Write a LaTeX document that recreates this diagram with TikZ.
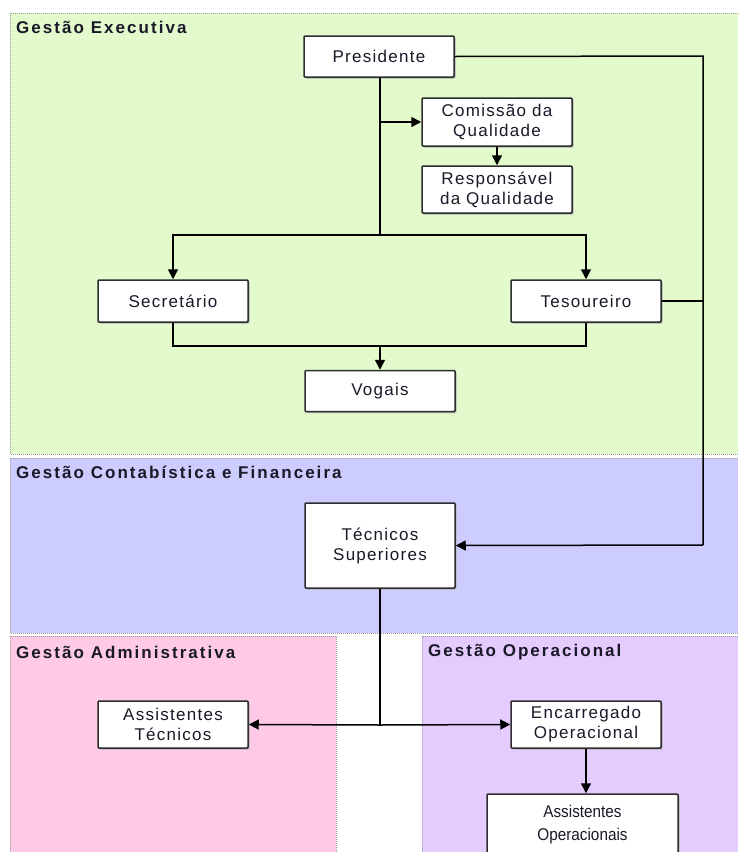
\documentclass[tikz,border=0pt]{standalone}
\usepackage{fontspec}
\setmainfont[LetterSpace=7.5]{Liberation Sans}
\newfontfamily\labelfont[LetterSpace=12]{Liberation Sans}
\newfontfamily\plainfont{Liberation Sans}
\usetikzlibrary{arrows.meta,shadows}
\definecolor{greenbg}{RGB}{227,251,204}
\definecolor{bluebg}{RGB}{204,204,255}
\definecolor{pinkbg}{RGB}{255,202,229}
\definecolor{purplebg}{RGB}{229,204,255}
\definecolor{edge}{RGB}{45,45,45}
\definecolor{ink}{RGB}{25,25,40}
\tikzset{
  region/.style={draw=gray!80, line width=0.8pt, dash pattern=on 0.9pt off 1.1pt},
  regionlabel/.style={anchor=west, inner sep=0pt, text=ink, font=\labelfont\fontsize{17}{19}\selectfont\bfseries},
  box/.style={draw=edge, line width=1.5pt, fill=white, minimum width=150pt, rounded corners=1pt,
    align=center, inner sep=0pt, text=ink, font=\fontsize{17}{20}\selectfont,
    drop shadow={shadow xshift=1.5pt, shadow yshift=-1.5pt, fill=gray!60, opacity=1}},
  conn/.style={draw=black, line width=1.5pt},
  arr/.style={conn, -{Triangle[length=10pt,width=10pt]}}
}
\begin{document}
\begin{tikzpicture}[x=1pt,y=-1pt]
\useasboundingbox (0,0) rectangle (738,852);
\clip (0,0) rectangle (738,852);
\fill[white] (0,0) rectangle (738,852);
% regions
\path[region, fill=greenbg] (10,13) rectangle (760,454);
\path[region, fill=bluebg] (10,458) rectangle (760,633);
\path[region, fill=pinkbg] (10,636) rectangle (336,870);
\path[region, fill=purplebg] (422,636) rectangle (760,870);
\node[regionlabel] (lge) at (16,27) {Gestão Executiva};
\node[regionlabel] (lgc) at (16,472) {Gestão Contabística e Financeira};
\node[regionlabel] (lga) at (16,652) {Gestão Administrativa};
\node[regionlabel] (lgo) at (428,652) {Gestão Operacional};
% boxes
\node[box, minimum height=41pt] (pres) at (379,56.5) {Presidente};
\node[box, minimum height=48pt] (com) at (497,122) {Comissão da\\Qualidade};
\node[box, minimum height=47pt] (resp) at (497,189.5) {Responsável\\da Qualidade};
\node[box, minimum height=42pt] (sec) at (173,301) {Secretário};
\node[box, minimum height=42pt] (tes) at (586,301) {Tesoureiro};
\node[box, minimum height=41pt] (vog) at (380,391) {Vogais};
\node[box, minimum height=85pt] (tec) at (380,545.5) {Técnicos\\Superiores};
\node[box, minimum height=47pt] (at) at (173,724.5) {Assistentes\\Técnicos};
\node[box, minimum height=47pt] (enc) at (586,724.5) {Encarregado\\Operacional};
\node[box, minimum width=191pt, minimum height=62pt, font=\plainfont\fontsize{17}{23}\selectfont] (ao) at (582.5,825) {\scalebox{0.9}[1]{Assistentes}\\\scalebox{0.9}[1]{Operacionais}};
% junction coordinates
\coordinate (j1) at (380,235);
\coordinate (j2) at (380,346);
\coordinate (j3) at (703,56);
\coordinate (j4) at (703,545);
\coordinate (j5) at (380,725);
% connectors
\draw[conn] (pres.south -| j1) -- (j1);
\draw[arr] (j1 |- com.west) -- (com.west);
\draw[arr] (com.south) -- (resp.north);
\draw[arr] (j1) -| (sec.north);
\draw[arr] (j1) -| (tes.north);
\draw[conn] (sec.south) -- (sec.south |- j2) -- (tes.south |- j2) -- (tes.south);
\draw[arr] (j2) -- (vog.north);
\draw[conn] (pres.east) -- (j3) -- (j4);
\draw[arr] (j4) -- (tec.east);
\draw[conn] (tes.east) -- (tes.east -| j3);
\draw[conn] (tec.south) -- (j5);
\draw[arr] (j5) -- (at.east);
\draw[arr] (j5) -- (enc.west);
\draw[arr] (enc.south) -- (enc.south |- ao.north);
\end{tikzpicture}
\end{document}
